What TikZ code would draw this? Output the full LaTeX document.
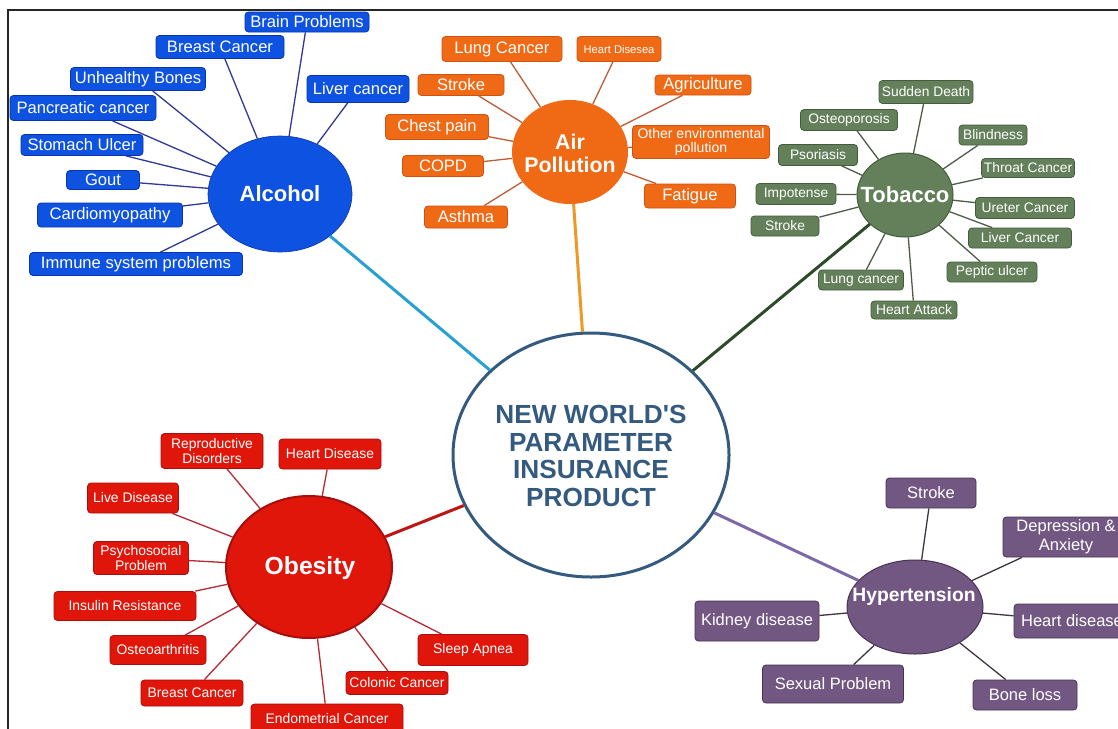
\documentclass[tikz,border=0pt]{standalone}
\usepackage{fontspec}
\setmainfont{Liberation Sans}[Ligatures=TeXOff]
\usetikzlibrary{shapes.geometric}
\definecolor{alcF}{RGB}{14,82,226}
\definecolor{alcD}{RGB}{10,52,170}
\definecolor{alcL}{RGB}{48,58,150}
\definecolor{alcM}{RGB}{40,160,210}
\definecolor{airF}{RGB}{240,106,22}
\definecolor{airD}{RGB}{205,82,20}
\definecolor{airL}{RGB}{190,92,52}
\definecolor{airM}{RGB}{240,152,36}
\definecolor{tobF}{RGB}{99,128,90}
\definecolor{tobD}{RGB}{68,92,60}
\definecolor{tobL}{RGB}{78,92,72}
\definecolor{tobM}{RGB}{45,75,40}
\definecolor{obeF}{RGB}{224,22,10}
\definecolor{obeD}{RGB}{168,14,14}
\definecolor{obeL}{RGB}{182,42,52}
\definecolor{obeM}{RGB}{190,20,20}
\definecolor{hypF}{RGB}{114,87,130}
\definecolor{hypD}{RGB}{72,52,82}
\definecolor{hypL}{RGB}{62,52,66}
\definecolor{hypM}{RGB}{125,105,165}
\definecolor{mainC}{RGB}{52,90,128}
\tikzset{
  box/.style={rectangle, rounded corners=3.5pt, inner sep=0pt, align=center,
    text=white, line width=0.8pt},
  alc/.style={box, fill=alcF, draw=alcD, font=\fontsize{16.6}{18}\selectfont},
  air/.style={box, fill=airF, draw=airD, font=\fontsize{16.6}{18}\selectfont},
  tob/.style={box, fill=tobF, draw=tobD, font=\fontsize{13.8}{15}\selectfont},
  obe/.style={box, fill=obeF, draw=obeD, font=\fontsize{13.9}{14.6}\selectfont},
  hyp/.style={box, fill=hypF, draw=hypD, font=\fontsize{16.5}{19}\selectfont},
  hub/.style={ellipse, inner sep=0pt},
  title/.style={inner sep=0pt, align=center, text=white, font=\bfseries},
  sub/.style={line width=1.3pt},
  link/.style={line width=3pt}
}
\begin{document}
\begin{tikzpicture}[x=1pt,y=-1pt]
\useasboundingbox (0,0) rectangle (1118,728);
\clip (0,0) rectangle (1118,728);
\fill[white] (0,0) rectangle (1118,728);
\draw[line width=2pt, black!85] (8,730) -- (8,10) -- (1120,10);

% hubs
\node[hub, draw=mainC, line width=3pt, fill=white, minimum width=276, minimum height=244] (main) at (591,455) {};
\node[hub, fill=alcF, draw=alcD, line width=0.6pt, minimum width=144, minimum height=116] (alc) at (280,194) {};
\node[hub, fill=airF, minimum width=116, minimum height=104] (air) at (570,152) {};
\node[hub, fill=tobF, draw=tobD, line width=1pt, minimum width=96, minimum height=84] (tob) at (905,195) {};
\node[hub, fill=obeF, draw=obeD, line width=2pt, minimum width=166, minimum height=142] (obe) at (309,567) {};
\node[hub, fill=hypF, draw=hypD, line width=1pt, minimum width=136, minimum height=94] (hyp) at (915,607) {};

% main links
\draw[link, alcM] (alc) -- (main);
\draw[link, airM] (air) -- (main);
\draw[link, tobM] (tob) -- (main);
\draw[link, obeM] (obe) -- (main);
\draw[link, hypM] (hyp) -- (main);

% titles
\node[inner sep=0pt, align=center, text=mainC, font=\bfseries\fontsize{26.2}{27.5}\selectfont] (maint) at (591,456) {NEW WORLD'S\\PARAMETER\\INSURANCE\\PRODUCT};
\node[title, font=\bfseries\fontsize{22}{24}\selectfont] (alct) at (280,194) {Alcohol};
\node[title, font=\bfseries\fontsize{21.3}{23}\selectfont] (airt) at (570,153) {Air\\Pollution};
\node[title, font=\bfseries\fontsize{22}{24}\selectfont] (tobt) at (905,195) {Tobacco};
\node[title, font=\bfseries\fontsize{24.7}{26}\selectfont] (obet) at (310,568) {Obesity};
\node[title, font=\bfseries\fontsize{19.3}{21}\selectfont] (hypt) at (914,597) {Hypertension};

% Alcohol
\node[alc, minimum width=124, minimum height=20] (a1) at (307,22) {Brain Problems};
\node[alc, minimum width=128, minimum height=23] (a2) at (220,47) {Breast Cancer};
\node[alc, minimum width=135, minimum height=23] (a3) at (138,79) {Unhealthy Bones};
\node[alc, minimum width=146, minimum height=25] (a4) at (83,108) {Pancreatic cancer};
\node[alc, minimum width=122, minimum height=21] (a5) at (82,145) {Stomach Ulcer};
\node[alc, minimum width=73, minimum height=19] (a6) at (103,180) {Gout};
\node[alc, minimum width=145, minimum height=24] (a7) at (110,215) {Cardiomyopathy};
\node[alc, minimum width=213, minimum height=23] (a8) at (136,264) {Immune system problems};
\node[alc, minimum width=102, minimum height=27] (a9) at (358,89) {Liver cancer};
\foreach \n in {a1,a2,a3,a4,a5,a6,a7,a8,a9} \draw[sub, alcL] (\n) -- (alc);

% Air pollution
\node[air, minimum width=120, minimum height=25] (b1) at (502,49) {Lung Cancer};
\node[air, minimum width=84, minimum height=25, font=\fontsize{11.2}{12}\selectfont] (b2) at (619,49) {Heart Disesea};
\node[air, minimum width=86, minimum height=21] (b3) at (461,85) {Stroke};
\node[air, minimum width=96, minimum height=20] (b4) at (703,85) {Agriculture};
\node[air, minimum width=103, minimum height=25] (b5) at (437,127) {Chest pain};
\node[air, minimum width=137, minimum height=33, font=\fontsize{14}{14.5}\selectfont] (b6) at (701,142) {Other environmental\\pollution};
\node[air, minimum width=81, minimum height=21] (b7) at (443,166) {COPD};
\node[air, minimum width=91, minimum height=24] (b8) at (690,196) {Fatigue};
\node[air, minimum width=83, minimum height=22] (b9) at (466,217) {Asthma};
\foreach \n in {b1,b2,b3,b4,b5,b6,b7,b8,b9} \draw[sub, airL] (\n) -- (air);

% Tobacco
\node[tob, minimum width=94, minimum height=23] (c1) at (926,92) {Sudden Death};
\node[tob, minimum width=97, minimum height=21] (c2) at (849,120) {Osteoporosis};
\node[tob, minimum width=68, minimum height=20] (c3) at (993,135) {Blindness};
\node[tob, minimum width=79, minimum height=21] (c4) at (818,155) {Psoriasis};
\node[tob, minimum width=93, minimum height=19] (c5) at (1028,168) {Throat Cancer};
\node[tob, minimum width=80, minimum height=21] (c6) at (796,194) {Impotense};
\node[tob, minimum width=99, minimum height=21] (c7) at (1025,208) {Ureter Cancer};
\node[tob, minimum width=68, minimum height=20] (c8) at (785,226) {Stroke};
\node[tob, minimum width=103, minimum height=20] (c9) at (1020,238) {Liver Cancer};
\node[tob, minimum width=85, minimum height=20] (c10) at (861,280) {Lung cancer};
\node[tob, minimum width=90, minimum height=20] (c11) at (992,272) {Peptic ulcer};
\node[tob, minimum width=86, minimum height=18] (c12) at (914,310) {Heart Attack};
\foreach \n in {c1,c2,c3,c4,c5,c6,c7,c8,c9,c10,c11,c12} \draw[sub, tobL] (\n) -- (tob);

% Obesity
\node[obe, minimum width=102, minimum height=35] (d1) at (212,451) {Reproductive\\Disorders};
\node[obe, minimum width=102, minimum height=30] (d2) at (330,454) {Heart Disease};
\node[obe, minimum width=91, minimum height=30] (d3) at (133,498) {Live Disease};
\node[obe, minimum width=95, minimum height=33] (d4) at (141,558) {Psychosocial\\Problem};
\node[obe, minimum width=142, minimum height=29] (d5) at (125,606) {Insulin Resistance};
\node[obe, minimum width=96, minimum height=29] (d6) at (158,650) {Osteoarthritis};
\node[obe, minimum width=102, minimum height=26] (d7) at (192,693) {Breast Cancer};
\node[obe, minimum width=152, minimum height=30] (d8) at (327,719) {Endometrial Cancer};
\node[obe, minimum width=102, minimum height=23] (d9) at (397,683) {Colonic Cancer};
\node[obe, minimum width=110, minimum height=31] (d10) at (473,650) {Sleep Apnea};
\foreach \n in {d1,d2,d3,d4,d5,d6,d7,d8,d9,d10} \draw[sub, obeL] (\n) -- (obe);

% Hypertension
\node[hyp, minimum width=90, minimum height=30] (e1) at (931,493) {Stroke};
\node[hyp, minimum width=126, minimum height=40] (e2) at (1066,537) {Depression \&\\Anxiety};
\node[hyp, minimum width=116, minimum height=34] (e3) at (1072,621) {Heart disease};
\node[hyp, minimum width=124, minimum height=40] (e4) at (757,621) {Kidney disease};
\node[hyp, minimum width=141, minimum height=38] (e5) at (833,684) {Sexual Problem};
\node[hyp, minimum width=104, minimum height=30] (e6) at (1025,695) {Bone loss};
\foreach \n in {e1,e2,e3,e4,e5,e6} \draw[sub, hypL] (\n) -- (hyp);
\end{tikzpicture}
\end{document}
